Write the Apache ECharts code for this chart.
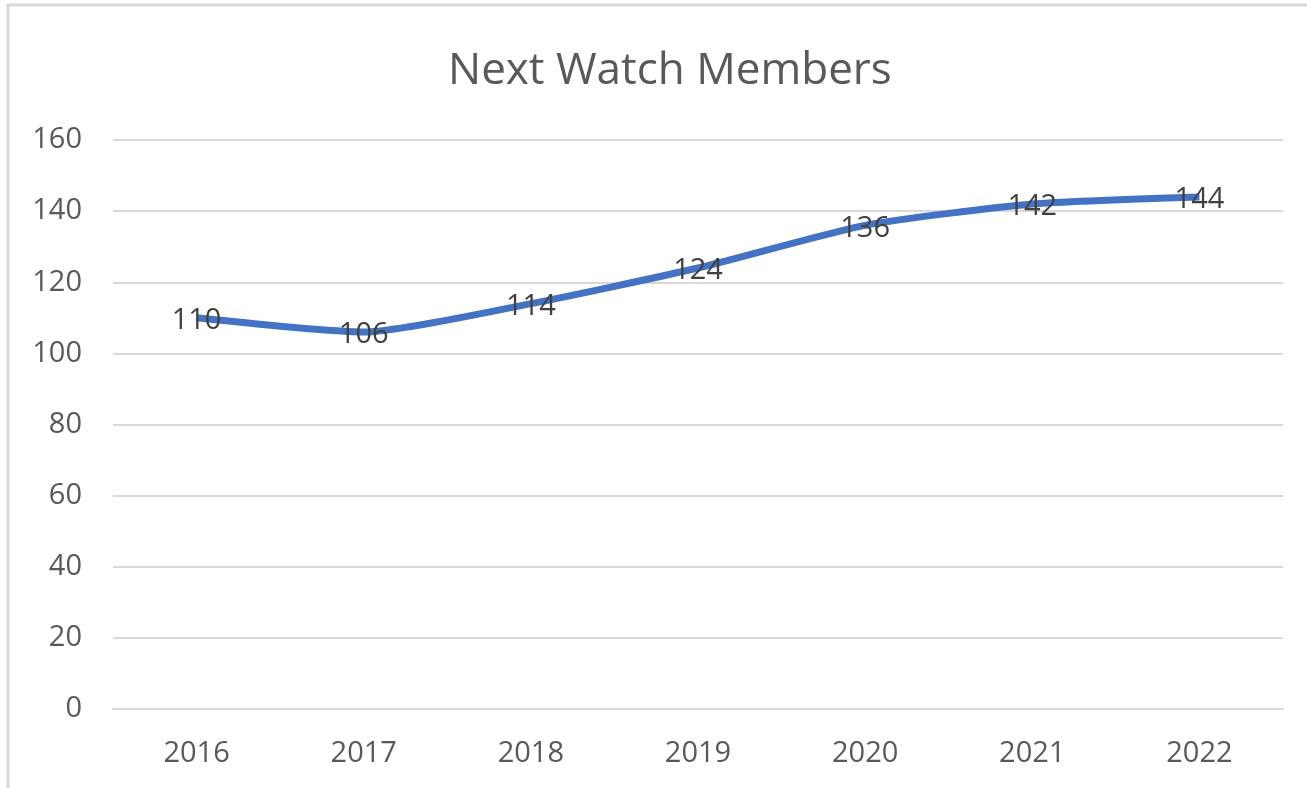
<!DOCTYPE html>
<html>
<head>
<meta charset="utf-8">
<script src="https://cdn.jsdelivr.net/npm/echarts@6/dist/echarts.min.js"></script>
<style>
  html, body { margin: 0; padding: 0; background: #fff; }
  #chart { width: 1307px; height: 788px; }
</style>
</head>
<body>
<div id="chart"></div>
<script>
const years = ['2016', '2017', '2018', '2019', '2020', '2021', '2022'];
const members = [110, 106, 114, 124, 136, 142, 144];

const chart = echarts.init(document.getElementById('chart'));
const font = '"Open Sans", "Noto Sans", sans-serif';

chart.setOption({
    animation: false,
    title: {
        text: 'Next Watch Members',
        left: 443,
        top: 44,
        textStyle: {
            fontFamily: font,
            fontSize: 44,
            fontWeight: 'normal',
            color: '#595959'
        }
    },
    graphic: [{
        type: 'rect',
        shape: { x: 8, y: 5, width: 1400, height: 900 },
        style: { fill: 'none', stroke: '#d9d9d9', lineWidth: 3 },
        silent: true
    }],
    grid: { left: 113, right: 24, top: 140, bottom: 79 },
    xAxis: {
        type: 'category',
        data: years,
        boundaryGap: true,
        axisLine: { lineStyle: { color: '#d9d9d9', width: 2 } },
        axisTick: { show: false },
        axisLabel: {
            margin: 30,
            fontFamily: font,
            fontSize: 29,
            color: '#595959'
        }
    },
    yAxis: {
        type: 'value',
        min: 0,
        max: 160,
        interval: 20,
        axisLine: { show: false },
        axisTick: { show: false },
        splitLine: { lineStyle: { color: '#d9d9d9', width: 2 } },
        axisLabel: {
            margin: 31,
            fontFamily: font,
            fontSize: 29,
            color: '#595959'
        }
    },
    series: [{
        type: 'line',
        data: members,
        smooth: 0.2,
        symbol: 'circle',
        symbolSize: 1,
        itemStyle: { color: 'rgba(0,0,0,0)' },
        lineStyle: { color: '#4472C4', width: 7 },
        label: {
            show: true,
            position: 'inside',
            offset: [0, 3],
            fontFamily: font,
            fontSize: 29,
            color: '#404040'
        }
    }]
});
</script>
</body>
</html>
